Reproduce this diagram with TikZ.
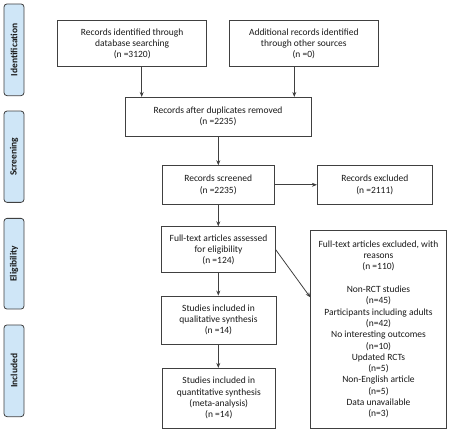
\documentclass[tikz,border=0pt]{standalone}
\usepackage{fontspec}
\setmainfont{Carlito}
\usetikzlibrary{arrows.meta,calc}
\definecolor{linegray}{HTML}{404040}
\definecolor{textgray}{HTML}{1A1A1A}
\definecolor{phasefill}{HTML}{CFE6F7}
\begin{document}
\begin{tikzpicture}[x=1pt,y=-1pt,
  every node/.style={font=\fontsize{9.5}{11.3}\selectfont, text=textgray},
  flowbox/.style={draw=linegray, line width=0.8pt, fill=white, inner sep=0pt, align=center},
  phase/.style={draw=linegray, line width=0.8pt, fill=phasefill, rounded corners=3pt, inner sep=0pt,
    minimum width=20pt},
  phasetext/.style={rotate=90, font=\fontsize{9.5}{11}\selectfont\bfseries},
  flowarrow/.style={draw=linegray, line width=0.8pt, -{Stealth[length=5pt,width=4pt]}}]
\useasboundingbox (0,0) rectangle (450,432);
% phase labels
\node[phase, minimum height=91.7pt] (pid) at (14,49.8) {};
\node[phasetext] (tid) at (pid.center) {Identification};
\node[phase, minimum height=91.3pt] (psc) at (14,156.7) {};
\node[phasetext] (tsc) at (psc.center) {Screening};
\node[phase, minimum height=90.7pt] (pel) at (14,263.7) {};
\node[phasetext] (tel) at (pel.center) {Eligibility};
\node[phase, minimum height=91.7pt] (pin) at (14,370.8) {};
\node[phasetext] (tin) at (pin.center) {Included};
% boxes
\node[flowbox, minimum width=149pt, minimum height=46pt] (A) at (132.2,43.7)
  {Records identified through\\database searching\\(n =3120)};
\node[flowbox, minimum width=149.7pt, minimum height=46pt] (B) at (303.8,43.7)
  {Additional records identified\\through other sources\\(n =0)};
\node[flowbox, minimum width=186pt, minimum height=38.7pt] (C) at (218,116.7)
  {Records after duplicates removed\\(n =2235)};
\node[flowbox, minimum width=111.7pt, minimum height=38.3pt] (D) at (218.2,184.8)
  {Records screened\\(n =2235)};
\node[flowbox, minimum width=115pt, minimum height=38.3pt] (E) at (374.8,184.8)
  {Records excluded\\(n =2111)};
\node[flowbox, minimum width=113.6pt, minimum height=46pt] (F) at (218.5,249.7)
  {Full-text articles assessed\\for eligibility\\(n =124)};
\node[flowbox, minimum width=115pt, minimum height=48pt] (G) at (218.5,320)
  {Studies included in\\qualitative synthesis\\(n =14)};
\node[flowbox, minimum width=113pt, minimum height=60pt] (H) at (218.8,398.3)
  {Studies included in\\quantitative synthesis\\(meta-analysis)\\(n =14)};
\node[flowbox, minimum width=135.6pt, minimum height=197.6pt] (I) at (378.5,329.5)
  {Full-text articles excluded, with\\reasons\\(n =110)\\[11.3pt]Non-RCT studies\\(n=45)\\Participants including adults\\(n=42)\\No interesting outcomes\\(n=10)\\Updated RCTs\\(n=5)\\Non-English article\\(n=5)\\Data unavailable\\(n=3)};
% connectors
\coordinate (xa) at (141.7,0);
\coordinate (xb) at (294.3,0);
\coordinate (xc) at (218.3,0);
\coordinate (yi) at (0,297.3);
\draw[flowarrow] (A.south -| xa) -- (C.north -| xa);
\draw[flowarrow] (B.south -| xb) -- (C.north -| xb);
\draw[flowarrow] (C.south -| xc) -- (D.north -| xc);
\draw[flowarrow] (D.east) -- (E.west);
\draw[flowarrow] (D.south -| xc) -- (F.north -| xc);
\draw[flowarrow] (F.south -| xc) -- (G.north -| xc);
\draw[flowarrow] (G.south -| xc) -- (H.north -| xc);
\draw[flowarrow] (F.east) -- (I.west |- yi);
\end{tikzpicture}
\end{document}
